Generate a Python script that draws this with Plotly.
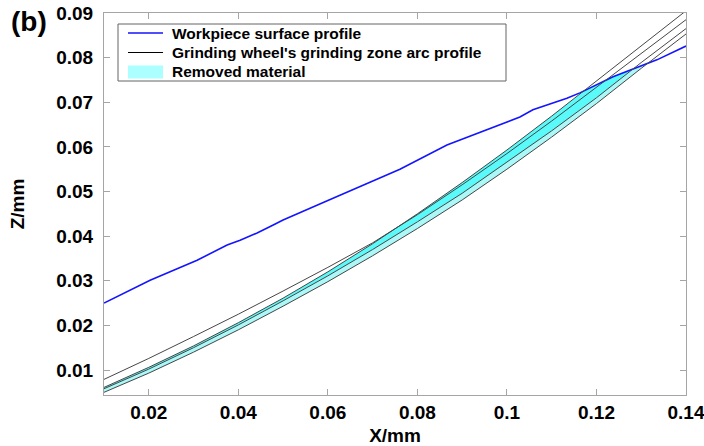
import plotly.graph_objects as go

# ---- data ----
# workpiece surface profile (blue)
wp_x = [0.010, 0.0203, 0.0308, 0.0375, 0.0404, 0.0442, 0.0478, 0.050, 0.060, 0.070,
        0.0761, 0.0866, 0.094, 0.1029, 0.1058, 0.1134, 0.1163, 0.1237, 0.1335, 0.140]
wp_z = [0.0250, 0.0301, 0.0346, 0.0380, 0.0391, 0.0407, 0.0425, 0.0436, 0.0480, 0.0523,
        0.0550, 0.0604, 0.0633, 0.0667, 0.0683, 0.0709, 0.0721, 0.0757, 0.0795, 0.0826]

# grinding wheel arc profiles (four positions)
arc_x = [0.01, 0.02, 0.03, 0.04, 0.05, 0.06, 0.07, 0.08, 0.09, 0.10, 0.11, 0.12, 0.13, 0.14]
arc1_z = [0.0079, 0.0126, 0.0175, 0.0225, 0.0277, 0.0330, 0.0385, 0.0448, 0.0515, 0.0585, 0.0658, 0.0733, 0.0808, 0.0885]
arc2_z = [0.0061, 0.0106, 0.0154, 0.0206, 0.0261, 0.0320, 0.0383, 0.0450, 0.0520, 0.0593, 0.0669, 0.0747, 0.0826, 0.0905]
arc3_z = [0.0058, 0.0102, 0.0150, 0.0201, 0.0255, 0.0311, 0.0370, 0.0432, 0.0496, 0.0565, 0.0636, 0.0710, 0.0789, 0.0865]
arc4_z = [0.0050, 0.0093, 0.0140, 0.0190, 0.0243, 0.0298, 0.0356, 0.0417, 0.0481, 0.0550, 0.0622, 0.0697, 0.0776, 0.0853]

# points where the arcs meet the workpiece surface
cross2 = (0.1173, 0.0725)
cross3 = (0.1282, 0.0775)
cross4 = (0.1323, 0.0793)

x_ticks = [0.02, 0.04, 0.06, 0.08, 0.1, 0.12, 0.14]
x_labels = ["0.02", "0.04", "0.06", "0.08", "0.1", "0.12", "0.14"]
y_ticks = [0.01, 0.02, 0.03, 0.04, 0.05, 0.06, 0.07, 0.08, 0.09]
y_labels = ["0.01", "0.02", "0.03", "0.04", "0.05", "0.06", "0.07", "0.08", "0.09"]

legend_names = ["Workpiece surface profile",
                "Grinding wheel's grinding zone arc profile",
                "Removed material"]

# ---- removed material regions ----
def region(upper_z, lower_z, c_up, c_low):
    ux = [x for x in arc_x if x < c_up[0]]
    uz = [z for x, z in zip(arc_x, upper_z) if x < c_up[0]]
    bx = [x for x in wp_x if c_up[0] < x < c_low[0]]
    bz = [z for x, z in zip(wp_x, wp_z) if c_up[0] < x < c_low[0]]
    lx = [x for x in arc_x if x < c_low[0]]
    lz = [z for x, z in zip(arc_x, lower_z) if x < c_low[0]]
    xs = ux + [c_up[0]] + bx + [c_low[0]] + lx[::-1]
    zs = uz + [c_up[1]] + bz + [c_low[1]] + lz[::-1]
    return xs, zs

dark_x, dark_z = region(arc2_z, arc3_z, cross2, cross3)
light_x, light_z = region(arc3_z, arc4_z, cross3, cross4)

FONT = "Liberation Sans, Arial, sans-serif"
ARC_COLOR = "rgb(70,70,70)"
BLUE = "rgb(20,20,255)"
PATCH = "rgb(172,255,255)"

fig = go.Figure()
fig.add_trace(go.Scatter(x=light_x, y=light_z, fill="toself", mode="lines",
                         line=dict(width=0), fillcolor="rgb(172,248,248)",
                         name=legend_names[2], showlegend=False, hoverinfo="skip"))
fig.add_trace(go.Scatter(x=dark_x, y=dark_z, fill="toself", mode="lines",
                         line=dict(width=0), fillcolor="rgb(90,250,250)",
                         showlegend=False, hoverinfo="skip"))
fig.add_trace(go.Scatter(x=wp_x, y=wp_z, mode="lines", line=dict(color=BLUE, width=1.6),
                         name=legend_names[0], showlegend=False))
for z in [arc1_z, arc2_z, arc3_z, arc4_z]:
    fig.add_trace(go.Scatter(x=arc_x, y=z, mode="lines", line=dict(color=ARC_COLOR, width=1),
                             name=legend_names[1], showlegend=False))

axis_common = dict(showline=True, linecolor="rgb(165,165,165)", linewidth=1, mirror="ticks",
                   ticks="inside", ticklen=6, tickcolor="rgb(165,165,165)", showgrid=False,
                   zeroline=False, automargin=False, ticklabeloverflow="allow",
                   tickfont=dict(family=FONT, size=19, color="black", weight="bold"))

# ---- manual legend (pixel layout of the reference) ----
L, R, T, B = 104, 686, 13, 395
def px(xp):
    return (xp - L) / (R - L)
def py(yp):
    return (B - yp) / (B - T)

shapes = [dict(type="rect", xref="paper", yref="paper", x0=px(118), x1=px(506), y0=py(24), y1=py(81),
               line=dict(color="rgb(100,100,100)", width=1), fillcolor="white", layer="above")]
rows = [33, 52.5, 72]
shapes.append(dict(type="line", xref="paper", yref="paper", x0=px(128), x1=px(163), y0=py(rows[0]), y1=py(rows[0]),
                   line=dict(color=BLUE, width=1.6), layer="above"))
shapes.append(dict(type="line", xref="paper", yref="paper", x0=px(128), x1=px(163), y0=py(rows[1]), y1=py(rows[1]),
                   line=dict(color="black", width=1), layer="above"))
shapes.append(dict(type="rect", xref="paper", yref="paper", x0=px(128), x1=px(163), y0=py(rows[2] - 6.5), y1=py(rows[2] + 6.5),
                   line=dict(width=0), fillcolor=PATCH, layer="above"))

annotations = [dict(text="(b)", xref="paper", yref="paper", x=px(9), y=py(4),
                    xanchor="left", yanchor="top", showarrow=False,
                    font=dict(family=FONT, size=28, color="black", weight="bold"))]
for name, r in zip(legend_names, rows):
    annotations.append(dict(text=name, xref="paper", yref="paper", x=px(170), y=py(r),
                            xanchor="left", yanchor="middle", showarrow=False,
                            font=dict(family=FONT, size=15.5, color="black", weight="bold")))

fig.update_layout(
    width=704, height=446,
    margin=dict(l=L, r=704 - R, t=T, b=446 - B),
    paper_bgcolor="white", plot_bgcolor="white",
    xaxis=dict(range=[0.01, 0.14], tickvals=x_ticks, ticktext=x_labels,
               title=dict(text="X/mm", font=dict(family=FONT, size=19, color="black", weight="bold"), standoff=11),
               **axis_common),
    yaxis=dict(range=[0.0044, 0.09], tickvals=y_ticks, ticktext=y_labels, ticklabelstandoff=6,
               title=dict(text="Z/mm", font=dict(family=FONT, size=19, color="black", weight="bold"), standoff=26),
               **axis_common),
    showlegend=False,
    shapes=shapes,
    annotations=annotations,
)

fig.write_html("out.html")
